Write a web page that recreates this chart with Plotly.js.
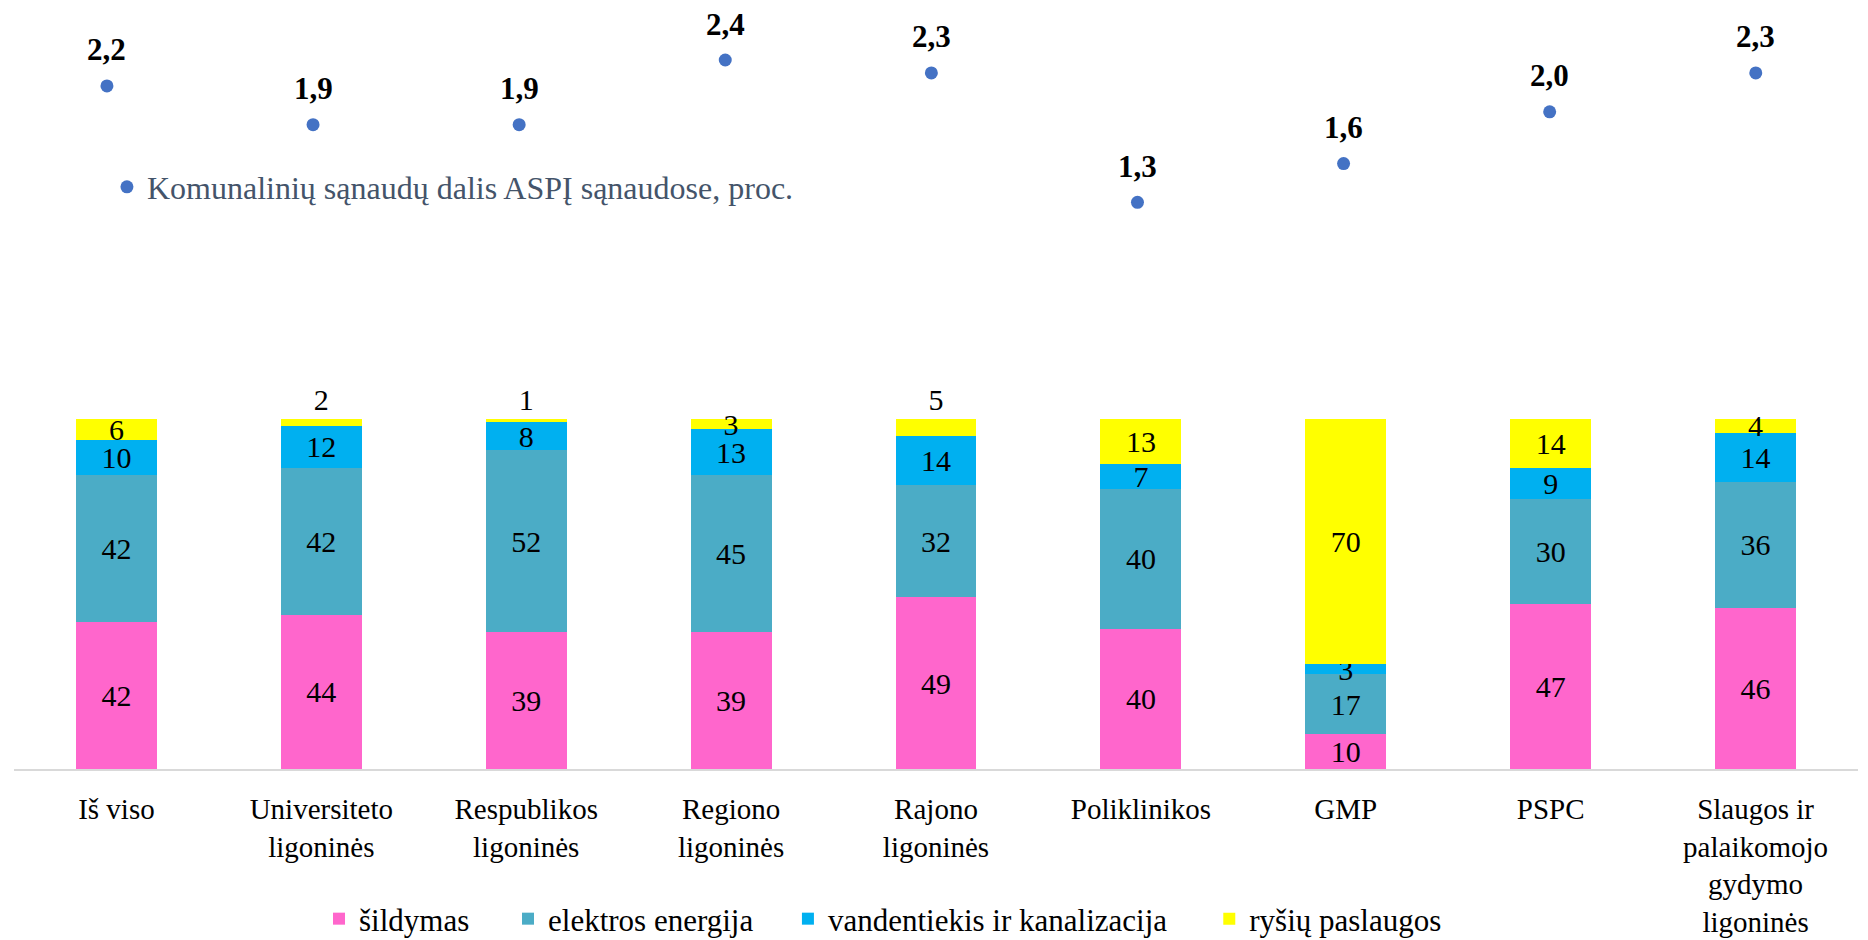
<!DOCTYPE html>
<html>
<head>
<meta charset="utf-8">
<script src="https://cdn.plot.ly/plotly-3.0.1.min.js"></script>
<style>html,body{margin:0;padding:0;background:#fff;}#chart{width:1868px;height:940px;}</style>
</head>
<body>
<div id="chart"></div>
<script>
var categories = ["Iš viso", "Universiteto<br>ligoninės", "Respublikos<br>ligoninės", "Regiono<br>ligoninės", "Rajono<br>ligoninės", "Poliklinikos", "GMP", "PSPC", "Slaugos ir<br>palaikomojo<br>gydymo<br>ligoninės"];
var sildymas = [42, 44, 39, 39, 49, 40, 10, 47, 46];
var elektros = [42, 42, 52, 45, 32, 40, 17, 30, 36];
var vandentiekis = [10, 12, 8, 13, 14, 7, 3, 9, 14];
var rysiu = [6, 2, 1, 3, 5, 13, 70, 14, 4];
var dalis = [2.2, 1.9, 1.9, 2.4, 2.3, 1.3, 1.6, 2.0, 2.3];
var dalisLabels = ["2,2", "1,9", "1,9", "2,4", "2,3", "1,3", "1,6", "2,0", "2,3"];
var rysiuPos = ["inside", "outside", "outside", "inside", "outside", "inside", "inside", "inside", "inside"];

var serif = "Liberation Serif";
var labelFont = {family: serif, size: 30, color: "#000"};

function barTrace(name, vals, color, legendId, pos) {
  return {
    type: "bar", name: name, x: categories, y: vals,
    marker: {color: color, line: {width: 0}},
    text: vals.map(String), textposition: pos || "inside",
    insidetextanchor: "middle", textangle: 0, constraintext: "none",
    textfont: labelFont, insidetextfont: labelFont, outsidetextfont: labelFont,
    cliponaxis: false, hoverinfo: "skip", legend: legendId
  };
}

var traces = [
  barTrace("šildymas", sildymas, "#FF66CC", "legend"),
  barTrace("elektros energija", elektros, "#4BACC6", "legend3"),
  barTrace("vandentiekis ir kanalizacija", vandentiekis, "#00B0F0", "legend4"),
  barTrace("ryšių paslaugos", rysiu, "#FFFF00", "legend5", rysiuPos),
  {
    type: "scatter", mode: "markers", name: "Komunalinių sąnaudų dalis ASPĮ sąnaudose, proc.",
    x: categories, y: dalis, xaxis: "x2", yaxis: "y2",
    marker: {color: "#4472C4", size: 13},
    cliponaxis: false, legend: "legend2", hoverinfo: "skip"
  }
];

var annotations = dalis.map(function (v, i) {
  return {
    x: categories[i], y: v, xref: "x2", yref: "y2", text: "<b>" + dalisLabels[i] + "</b>",
    showarrow: false, yshift: 36,
    font: {family: serif, size: 31, color: "#000"}
  };
});

function bottomLegend(x) {
  return {
    orientation: "h", x: x, y: -0.203, xanchor: "left", yanchor: "middle",
    font: {family: serif, size: 31, color: "#000"}, bgcolor: "rgba(0,0,0,0)"
  };
}

var layout = {
  width: 1868, height: 940,
  margin: {l: 14, r: 10, t: 30, b: 171, autoexpand: false},
  paper_bgcolor: "#fff", plot_bgcolor: "#fff",
  barmode: "stack", bargap: 0.605,
  font: {family: serif, size: 29, color: "#000"},
  xaxis: {
    type: "category", range: [-0.5, 8.5], showgrid: false, zeroline: false,
    showline: true, linecolor: "#D9D9D9", linewidth: 2, automargin: false,
    ticks: "outside", ticklen: 13, tickcolor: "rgba(0,0,0,0)",
    tickfont: {family: serif, size: 29, color: "#000"}, fixedrange: true
  },
  yaxis: {range: [0, 211.1], visible: false, fixedrange: true},
  xaxis2: {type: "category", overlaying: "x", anchor: "y2", range: [-0.451, 8.496], visible: false},
  yaxis2: {overlaying: "y", anchor: "x2", side: "right", range: [-3.079, 2.632], visible: false},
  showlegend: true,
  legend: bottomLegend(0.1654),
  legend3: bottomLegend(0.2679),
  legend4: bottomLegend(0.4197),
  legend5: bottomLegend(0.6482),
  legend2: {
    orientation: "h", x: 0.0504, y: 0.7875, xanchor: "left", yanchor: "middle",
    font: {family: serif, size: 32, color: "#44546A"}, bgcolor: "rgba(0,0,0,0)",
    itemwidth: 30
  },
  annotations: annotations
};

Plotly.newPlot("chart", traces, layout, {displayModeBar: false, staticPlot: true});
</script>
</body>
</html>
